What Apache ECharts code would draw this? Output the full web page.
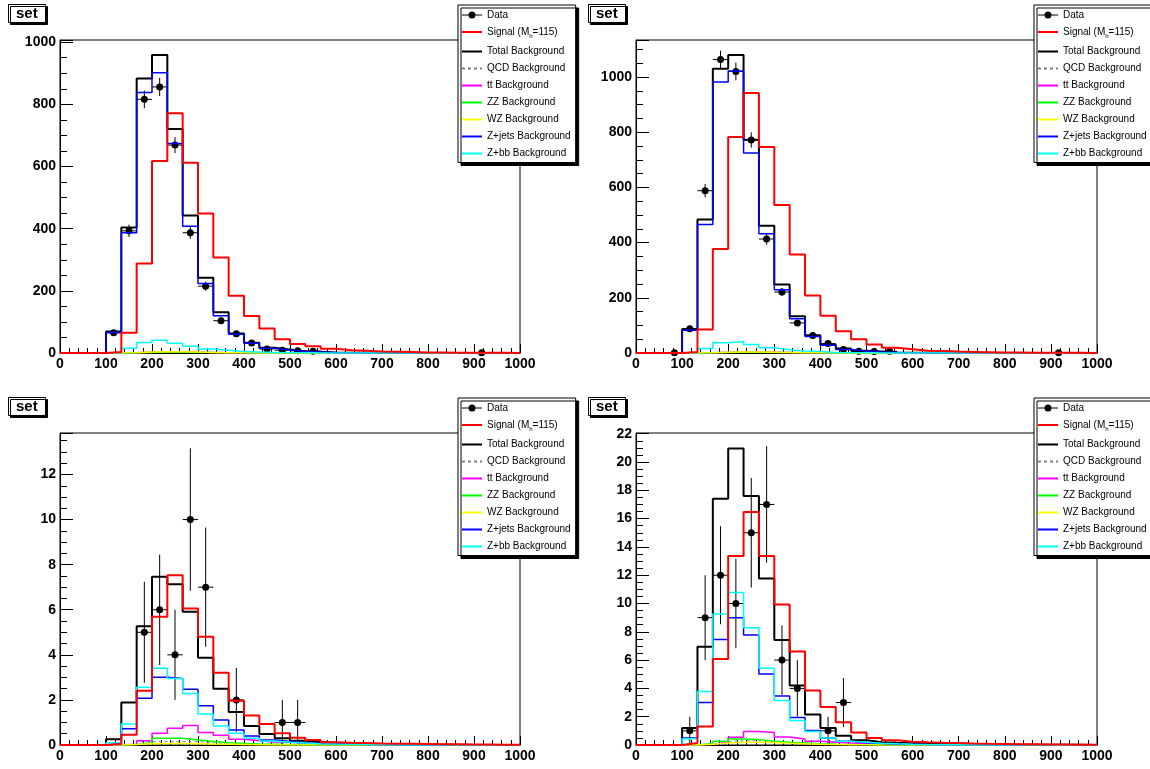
<!DOCTYPE html>
<html><head><meta charset="utf-8">
<script src="https://cdn.jsdelivr.net/npm/echarts@6/dist/echarts.min.js"></script>
<style>html,body{margin:0;padding:0;background:#fff}#c{width:1150px;height:769px}</style>
</head><body><div id="c"></div>
<script>
// ---- binning ----
const NBINS = 30, XMIN = 0, XMAX = 1000;
const xTickInterval = 100;
const yTickIntervals = [200, 200, 2, 2];
const yMaxes = [1007, 1134, 13.84, 22.05];
const panelTitles = ['set', 'set', 'set', 'set'];

// ---- panel 1 (top left) ----
const p1Data   = [0,0,0,65,393,816,856,669,387,215,104,62,32,13,9,7,6,0,0,0,0,0,0,0,0,0,0,1,0,0];
const p1Signal = [0,0,0,3,65,288,618,771,612,449,307,184,119,79,44,29,22,14,9,7,5,4,3,2,2,1,1,1,1,0];
const p1Total  = [0,0,1,69,404,883,959,721,442,242,131,63,33,17,11,6,4,2,1,1,1,0,0,0,0,0,0,0,0,0];
const p1QCD    = [0,0,0,0,0,1,2,2,1,1,0,0,0,0,0,0,0,0,0,0,0,0,0,0,0,0,0,0,0,0];
const p1TT     = [0,0,0,0,1,3,4,4,3,2,1,1,0,0,0,0,0,0,0,0,0,0,0,0,0,0,0,0,0,0];
const p1ZZ     = [0,0,0,0,1,2,3,3,2,2,1,1,0,0,0,0,0,0,0,0,0,0,0,0,0,0,0,0,0,0];
const p1WZ     = [0,0,0,0,1,3,4,4,3,2,1,1,0,0,0,0,0,0,0,0,0,0,0,0,0,0,0,0,0,0];
const p1Zjets  = [0,0,1,66,387,838,902,674,408,224,120,60,31,15,10,5,3,1,1,0,0,0,0,0,0,0,0,0,0,0];
const p1Zbb    = [0,0,0,1,15,34,41,31,22,13,9,5,3,2,1,1,0,0,0,0,0,0,0,0,0,0,0,0,0,0];

// ---- panel 2 (top right) ----
const p2Data   = [0,0,1,88,588,1063,1020,772,413,221,109,63,34,13,6,5,6,0,0,0,0,0,0,0,0,0,0,1,0,0];
const p2Signal = [0,0,0,4,85,377,783,942,746,536,357,208,135,79,50,31,19,14,8,7,5,4,3,2,2,1,1,1,1,0];
const p2Total  = [0,0,1,86,484,1030,1080,773,461,248,133,64,30,16,8,5,2,1,1,0,0,0,0,0,0,0,0,0,0,0];
const p2QCD    = [0,0,0,0,0,1,2,2,1,1,0,0,0,0,0,0,0,0,0,0,0,0,0,0,0,0,0,0,0,0];
const p2TT     = [0,0,0,0,1,3,4,4,3,2,1,1,0,0,0,0,0,0,0,0,0,0,0,0,0,0,0,0,0,0];
const p2ZZ     = [0,0,0,0,1,2,3,3,2,2,1,1,0,0,0,0,0,0,0,0,0,0,0,0,0,0,0,0,0,0];
const p2WZ     = [0,0,0,0,1,3,4,4,3,2,1,1,0,0,0,0,0,0,0,0,0,0,0,0,0,0,0,0,0,0];
const p2Zjets  = [0,0,1,82,466,982,1022,725,432,229,124,60,28,13,7,4,2,1,0,0,0,0,0,0,0,0,0,0,0,0];
const p2Zbb    = [0,0,0,1,16,37,42,31,19,12,7,5,2,1,1,0,0,0,0,0,0,0,0,0,0,0,0,0,0,0];

// ---- panel 3 (bottom left) ----
const p3Data   = [0,0,0,0,0,5,6,4,10,7,0,2,0,0,1,1,0,0,0,0,0,0,0,0,0,0,0,0,0,0];
const p3Signal = [0,0,0,0.04,0.45,2.41,5.69,7.53,6.06,4.80,3.20,1.96,1.31,0.93,0.52,0.32,0.22,0.12,0.10,0.09,0.07,0.06,0.05,0.04,0.03,0.03,0.02,0.02,0.01,0.01];
const p3Total  = [0,0,0,0.25,1.88,5.27,7.46,7.13,5.91,3.87,2.50,1.46,0.84,0.49,0.30,0.19,0.13,0.09,0.06,0.04,0.03,0.02,0.02,0.01,0.01,0.01,0,0,0,0];
const p3QCD    = [0,0,0,0,0,0.15,0.15,0.15,0.15,0.10,0.05,0,0,0,0,0,0,0,0,0,0,0,0,0,0,0,0,0,0,0];
const p3TT     = [0,0,0,0,0.03,0.19,0.52,0.74,0.87,0.56,0.43,0.25,0.19,0.13,0.12,0.09,0.06,0.04,0.03,0.02,0.01,0,0,0,0,0,0,0,0,0];
const p3ZZ     = [0,0,0,0,0.02,0.10,0.30,0.30,0.22,0.15,0.10,0.07,0.04,0.03,0.02,0.01,0,0,0,0,0,0,0,0,0,0,0,0,0,0];
const p3WZ     = [0,0,0,0,0.02,0.05,0.07,0.07,0.06,0.04,0.03,0.02,0.01,0,0,0,0,0,0,0,0,0,0,0,0,0,0,0,0,0];
const p3Zjets  = [0,0,0,0.07,0.72,2.07,3.00,2.95,2.47,1.74,1.11,0.66,0.40,0.22,0.15,0.10,0.07,0.05,0.03,0.02,0.01,0,0,0,0,0,0,0,0,0];
const p3Zbb    = [0,0,0,0.10,0.93,2.56,3.40,2.95,2.29,1.37,0.84,0.52,0.30,0.18,0.12,0.09,0.06,0.04,0.03,0.02,0.01,0,0,0,0,0,0,0,0,0];

// ---- panel 4 (bottom right) ----
const p4Data   = [0,0,0,1,9,12,10,15,17,6,4,0,1,3,0,0,0,0,0,0,0,0,0,0,0,0,0,0,0,0];
const p4Signal = [0,0,0,0.14,1.31,6.08,13.36,16.46,13.36,9.93,6.60,3.85,2.68,1.60,0.89,0.49,0.33,0.23,0.19,0.16,0.14,0.10,0.08,0.07,0.06,0.05,0.04,0.03,0.02,0.01];
const p4Total  = [0,0,0,1.20,6.95,17.40,20.96,17.60,11.76,7.42,4.20,2.16,1.20,0.66,0.33,0.20,0.16,0.14,0.10,0.08,0.06,0.05,0.04,0.03,0.02,0.02,0.01,0.01,0.01,0];
const p4QCD    = [0,0,0,0,0,0.25,0.30,0.30,0.25,0.15,0.05,0,0,0,0,0,0,0,0,0,0,0,0,0,0,0,0,0,0,0];
const p4TT     = [0,0,0,0,0.05,0.19,0.54,0.96,0.89,0.56,0.42,0.26,0.19,0.14,0.10,0.07,0.05,0.03,0.02,0.01,0,0,0,0,0,0,0,0,0,0];
const p4ZZ     = [0,0,0,0,0.10,0.26,0.42,0.38,0.26,0.19,0.14,0.08,0.05,0.03,0.02,0.01,0,0,0,0,0,0,0,0,0,0,0,0,0,0];
const p4WZ     = [0,0,0,0,0.05,0.15,0.20,0.20,0.17,0.12,0.08,0.05,0.03,0.02,0.01,0,0,0,0,0,0,0,0,0,0,0,0,0,0,0];
const p4Zjets  = [0,0,0,0.50,3.00,7.46,9.00,7.77,5.02,3.47,1.95,1.03,0.49,0.26,0.16,0.10,0.07,0.05,0.03,0.02,0.01,0,0,0,0,0,0,0,0,0];
const p4Zbb    = [0,0,0,0.45,3.78,9.25,10.77,8.28,5.42,3.15,1.74,0.96,0.49,0.26,0.19,0.12,0.08,0.05,0.03,0.02,0.01,0,0,0,0,0,0,0,0,0];

const panels = [
  {data:p1Data, signal:p1Signal, total:p1Total, qcd:p1QCD, tt:p1TT, zz:p1ZZ, wz:p1WZ, zjets:p1Zjets, zbb:p1Zbb},
  {data:p2Data, signal:p2Signal, total:p2Total, qcd:p2QCD, tt:p2TT, zz:p2ZZ, wz:p2WZ, zjets:p2Zjets, zbb:p2Zbb},
  {data:p3Data, signal:p3Signal, total:p3Total, qcd:p3QCD, tt:p3TT, zz:p3ZZ, wz:p3WZ, zjets:p3Zjets, zbb:p3Zbb},
  {data:p4Data, signal:p4Signal, total:p4Total, qcd:p4QCD, tt:p4TT, zz:p4ZZ, wz:p4WZ, zjets:p4Zjets, zbb:p4Zbb}
];

const NAMES = {
  data:'Data', signal:'Signal (M_h=115)', total:'Total Background', qcd:'QCD Background',
  tt:'tt Background', zz:'ZZ Background', wz:'WZ Background', zjets:'Z+jets Background', zbb:'Z+bb Background'
};
const legendOrder = ['data','signal','total','qcd','tt','zz','wz','zjets','zbb'];
const drawOrder = ['total','qcd','tt','zz','wz','zjets','zbb','signal'];
const styles = {
  signal:{color:'#ff0000', width:2},
  total:{color:'#000000', width:2},
  qcd:{color:'#808080', width:1, type:[3,3]},
  tt:{color:'#ff00ff', width:1.5},
  zz:{color:'#00ff00', width:1.5},
  wz:{color:'#ffff00', width:1.5},
  zjets:{color:'#0000ff', width:1.5},
  zbb:{color:'#00ffff', width:1.5}
};

const binWidth = (XMAX - XMIN) / NBINS;
function histPoints(vals){
  const pts = vals.map((v,i)=>[XMIN + i*binWidth, v]);
  pts.push([XMAX, vals[vals.length-1]]);
  return pts;
}
function dataPoints(vals){
  return vals.map((v,i)=>[XMIN + (i+0.5)*binWidth, v]).filter(p=>p[1]>0);
}

const gridPos = [
  {left:60, top:40, width:460, height:313},
  {left:636, top:40, width:461, height:313},
  {left:60, top:433, width:460, height:312},
  {left:636, top:433, width:461, height:312}
];
const legendPos = [[458,5],[1034,5],[458,398],[1034,398]];
const titlePos = [[8,4],[588,4],[8,397],[588,397]];

const FONT = 'Liberation Sans, Arial, Helvetica, sans-serif';
const grid = [], xAxis = [], yAxis = [], series = [], legend = [], title = [];

// legend icons (20x10 box; tiny corner specks fix the bounding box)
const BOX = ' M0,0H0.01V0.01H0Z M19.99,9.99H20V10H19.99Z';
const dataIcon = 'path://M0,4.5H20V5.5H0Z M13.5,5A3.5,3.5 0 1 1 6.5,5A3.5,3.5 0 1 1 13.5,5Z' + BOX;
const lineIcon = 'path://M0,4H20V6H0Z' + BOX;
const dashIcon = 'path://M0,4H3V6H0Z M6,4H9V6H6Z M12,4H15V6H12Z M18,4H20V6H18Z' + BOX;
function iconFor(key){
  if (key === 'data') return dataIcon;
  if (key === 'qcd') return dashIcon;
  return lineIcon;
}

function legendFmt(name){
  return name.replace('M_h', 'M{sub|h}');
}
const plainNum = v => String(Math.round(v));

gridPos.forEach((g, k) => {
  grid.push(Object.assign({show:true, borderColor:'#000', borderWidth:1, backgroundColor:'#fff'}, g));
  xAxis.push({
    type:'value', gridIndex:k, min:XMIN, max:XMAX, interval:xTickInterval,
    axisLine:{show:true, onZero:false, lineStyle:{color:'#000', width:1}},
    axisTick:{show:true, inside:true, length:9, lineStyle:{color:'#000', width:1}},
    minorTick:{show:true, splitNumber:5, length:5, lineStyle:{color:'#000', width:1}},
    splitLine:{show:false},
    axisLabel:{color:'#000', fontFamily:FONT, fontWeight:'bold', fontSize:14, margin:4, formatter:plainNum}
  });
  const iv = yTickIntervals[k];
  yAxis.push({
    type:'value', gridIndex:k, min:0, max:yMaxes[k], interval:iv,
    axisLine:{show:true, lineStyle:{color:'#000', width:1}},
    axisTick:{show:true, inside:true, length:13, lineStyle:{color:'#000', width:1}},
    minorTick:{show:true, splitNumber:4, length:7, lineStyle:{color:'#000', width:1}},
    splitLine:{show:false},
    axisLabel:{color:'#000', fontFamily:FONT, fontWeight:'bold', fontSize:14, margin:4,
      formatter: v => (Math.abs(v/iv - Math.round(v/iv)) < 1e-6 ? String(Math.round(v)) : '')}
  });
  const P = panels[k];
  drawOrder.forEach(key => {
    const s = styles[key];
    series.push({
      type:'line', name:NAMES[key], xAxisIndex:k, yAxisIndex:k, step:'end',
      symbol:'none', showSymbol:false, color:s.color, silent:true, animation:false,
      lineStyle:{color:s.color, width:s.width, type:s.type || 'solid'},
      data: histPoints(P[key])
    });
  });
  series.push({
    type:'custom', name:NAMES.data, xAxisIndex:k, yAxisIndex:k, color:'#000', silent:true, animation:false,
    encode:{x:0, y:1},
    data: dataPoints(P.data),
    renderItem: function(params, api){
      const x = api.value(0), y = api.value(1), e = Math.sqrt(y);
      const c = api.coord([x, y]);
      const lo = api.coord([x, Math.max(y - e, 0)]);
      const hi = api.coord([x, y + e]);
      const l = api.coord([x - binWidth/2, y]);
      const r = api.coord([x + binWidth/2, y]);
      return {type:'group', children:[
        {type:'line', shape:{x1:c[0], y1:lo[1], x2:c[0], y2:hi[1]}, style:{stroke:'#000', lineWidth:1}},
        {type:'line', shape:{x1:l[0], y1:c[1], x2:r[0], y2:c[1]}, style:{stroke:'#000', lineWidth:1}},
        {type:'circle', shape:{cx:c[0], cy:c[1], r:3.5}, style:{fill:'#000'}}
      ]};
    }
  });
  legend.push({
    orient:'vertical', left:legendPos[k][0], top:legendPos[k][1],
    itemWidth:20, itemHeight:10, itemGap:7, padding:[5,5,4,4],
    backgroundColor:'#fff', borderColor:'#000', borderWidth:1,
    shadowColor:'#000', shadowOffsetX:3, shadowOffsetY:3, shadowBlur:0,
    selectedMode:false,
    formatter: legendFmt,
    textStyle:{fontFamily:FONT, fontSize:10, color:'#000',
      rich:{sub:{fontFamily:FONT, fontSize:6, color:'#000', padding:[9,0,0,0]}}},
    data: legendOrder.map(key => ({name:NAMES[key], icon:iconFor(key),
      itemStyle:{color: key === 'data' ? '#000' : styles[key].color, opacity:1}}))
  });
  title.push({
    text:panelTitles[k], left:titlePos[k][0], top:titlePos[k][1], padding:[1,8,1,8],
    backgroundColor:'#fff', borderColor:'#000', borderWidth:1,
    shadowColor:'#000', shadowOffsetX:2, shadowOffsetY:2, shadowBlur:0,
    textStyle:{fontFamily:FONT, fontWeight:'bold', fontSize:15, color:'#000', lineHeight:17}
  });
});

const chart = echarts.init(document.getElementById('c'), null, {renderer:'canvas'});
chart.setOption({animation:false, backgroundColor:'#fff', title, grid, xAxis, yAxis, legend, series});
</script>
</body></html>
